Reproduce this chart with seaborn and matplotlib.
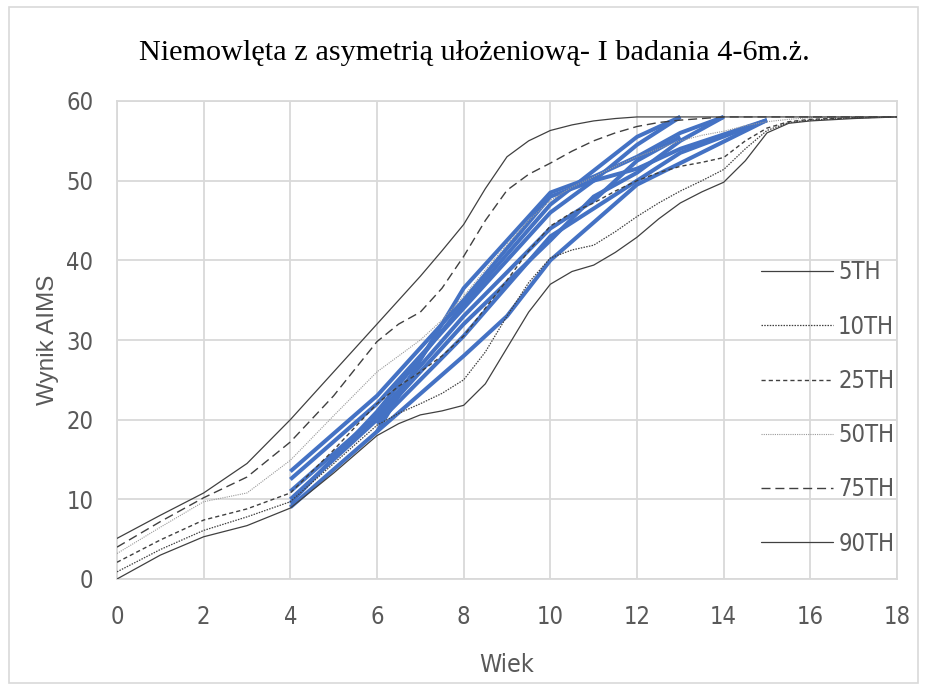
import numpy as np
import pandas as pd
import matplotlib
matplotlib.use("Agg")
import matplotlib.pyplot as plt
from matplotlib import font_manager
from matplotlib.lines import Line2D
from matplotlib.patches import Rectangle
import seaborn as sns

# ---------------- data ----------------
months = [0, 1, 2, 3, 4, 5, 6, 6.5, 7, 7.5, 8, 8.5, 9, 9.5, 10, 10.5, 11, 11.5,
          12, 12.5, 13, 13.5, 14, 14.5, 15, 15.5, 16, 17, 18]
p5 = [0.0, 3.0, 5.3, 6.7, 8.9, 13.3, 18.0, 19.5, 20.6, 21.1, 21.8, 24.5, 29.0, 33.5, 37.0, 38.6, 39.4, 41.0,
      42.9, 45.2, 47.2, 48.6, 49.8, 52.5, 56.0, 57.2, 57.5, 57.8, 58.0]
p10 = [0.9, 3.7, 6.1, 7.8, 9.7, 14.5, 19.3, 20.8, 22.0, 23.3, 25.0, 28.5, 33.0, 37.2, 40.3, 41.3, 41.9, 43.6,
       45.5, 47.2, 48.7, 50.0, 51.4, 54.0, 56.3, 57.3, 57.6, 57.9, 58.0]
p25 = [2.1, 4.9, 7.4, 8.8, 10.8, 16.2, 22.0, 24.2, 26.0, 28.0, 30.5, 34.0, 37.5, 41.2, 44.3, 46.0, 47.2, 48.7,
       50.0, 51.0, 51.8, 52.3, 52.9, 55.0, 56.6, 57.4, 57.7, 57.9, 58.0]
p50 = [3.2, 6.5, 9.7, 10.8, 14.9, 20.5, 26.0, 28.0, 30.0, 32.5, 35.5, 38.8, 42.0, 45.0, 47.5, 49.2, 50.5, 51.8,
       53.0, 54.0, 55.0, 55.7, 56.2, 56.9, 57.4, 57.7, 57.9, 58.0, 58.0]
p75 = [4.0, 7.2, 10.2, 12.8, 17.2, 23.0, 29.8, 32.0, 33.5, 36.5, 40.5, 45.0, 48.8, 50.8, 52.2, 53.7, 55.0, 56.0,
       56.8, 57.3, 57.6, 57.8, 58.0, 58.0, 58.0, 58.0, 58.0, 58.0, 58.0]
p90 = [5.1, 8.0, 10.8, 14.5, 20.0, 26.0, 32.0, 35.0, 38.0, 41.2, 44.5, 49.0, 53.0, 55.0, 56.3, 57.0, 57.5, 57.8,
       58.0, 58.0, 58.0, 58.0, 58.0, 58.0, 58.0, 58.0, 58.0, 58.0, 58.0]
percentile_labels = ["5TH", "10TH", "25TH", "50TH", "75TH", "90TH"]

# individual infants (age in months, AIMS score)
inf1_age = [4, 6, 8, 10, 11, 12, 13, 15]
inf1_score = [13.5, 23, 35, 48, 50, 51.5, 54, 57.6]
inf2_age = [4, 6, 8, 10, 11, 12, 13]
inf2_score = [12.5, 22, 34, 46, 50, 54.5, 58]
inf3_age = [4, 6, 8, 10, 11, 12, 13]
inf3_score = [11, 20.5, 33, 44, 47.5, 52.5, 55.5]
inf4_age = [4, 6, 8, 10, 11, 12, 13, 14]
inf4_score = [10, 20, 32, 42.5, 48, 51, 55, 58]
inf5_age = [4, 6, 8, 9, 10, 12, 15]
inf5_score = [9, 18.5, 28, 33, 40, 49.5, 57.6]
inf6_age = [6, 8, 10, 11, 12, 13, 14]
inf6_score = [18.5, 36.5, 48.5, 50.5, 53, 56, 58]
inf7_age = [6, 8, 10, 12, 13, 15]
inf7_score = [19.5, 30.5, 43, 50, 53.5, 57.6]
inf8_age = [4, 6, 8, 10, 12, 13]
inf8_score = [9.5, 21, 34.5, 47, 55.5, 58]

title = "Niemowlęta z asymetrią ułożeniową- I badania 4-6m.ż."
x_label = "Wiek"
y_label = "Wynik AIMS"
x_ticks = list(range(0, 19, 2))
y_ticks = list(range(0, 61, 10))

# ---------------- style ----------------
sns.set_theme(style="white")
names = {f.name for f in font_manager.fontManager.ttflist}
if "Liberation Sans Narrow" in names:
    sans = ["Liberation Sans Narrow", "DejaVu Sans"]
    stretch = "normal"
else:
    sans = ["DejaVu Sans"]
    stretch = "condensed"
plt.rcParams["font.family"] = sans
serif = ["Liberation Serif", "DejaVu Serif"]
wide_sans = ["Liberation Sans", "DejaVu Sans"]

W, H = 925, 690
fig = plt.figure(figsize=(W / 100, H / 100), dpi=100)
ax = fig.add_axes([117 / W, 1 - 579 / H, (897 - 117) / W, (579 - 101) / H])

blue = "#4472C4"
dark = "#404040"
gridc = "#D9D9D9"
textc = "#595959"

infants = [
    (inf1_age, inf1_score), (inf2_age, inf2_score), (inf3_age, inf3_score),
    (inf4_age, inf4_score), (inf5_age, inf5_score), (inf6_age, inf6_score),
    (inf7_age, inf7_score), (inf8_age, inf8_score),
]
for a, s in infants:
    sns.lineplot(x=a, y=s, ax=ax, color=blue, lw=2.9, estimator=None, sort=False,
                 zorder=3, solid_capstyle="butt", solid_joinstyle="round")

pdata = [p5, p10, p25, p50, p75, p90]
pstyles = [
    dict(color=dark, lw=0.9, linestyle="-"),
    dict(color=dark, lw=0.9, linestyle=(0, (1.2, 1.0))),
    dict(color=dark, lw=1.0, linestyle=(0, (3.0, 2.2))),
    dict(color="#9A9A9A", lw=0.8, linestyle=(0, (1.0, 1.0))),
    dict(color=dark, lw=1.0, linestyle=(0, (6.5, 3.5))),
    dict(color=dark, lw=0.9, linestyle="-"),
]
handles = []
for vals, st, lab in zip(pdata, pstyles, percentile_labels):
    sns.lineplot(x=months, y=vals, ax=ax, estimator=None, sort=False, zorder=4, **st)
    handles.append(Line2D([], [], **st, label=lab))

ax.set_xlim(0, 18)
ax.set_ylim(0, 60)
ax.set_xticks(x_ticks)
ax.set_yticks(y_ticks)
ax.grid(True, color=gridc, lw=1.3)
ax.set_axisbelow(True)
for sp in ax.spines.values():
    sp.set_color(gridc)
    sp.set_linewidth(1.3)
ax.tick_params(axis="both", length=0, labelsize=17, labelcolor=textc)
ax.tick_params(axis="x", pad=19)
ax.tick_params(axis="y", pad=17)
for lab in ax.get_xticklabels() + ax.get_yticklabels():
    lab.set_fontstretch(stretch)

ax.set_xlabel(x_label, fontsize=18, color=textc, labelpad=17, fontstretch=stretch)
ax.set_ylabel(y_label, fontsize=17.5, color=textc, labelpad=5, family=wide_sans)

fig.text(474 / W, 1 - 53 / H, title, ha="center", va="center", fontsize=21.8,
         family=serif, color="#000000")

leg = ax.legend(handles=handles, loc="upper left", bbox_to_anchor=((752 - 117) / 780, (579 - 251) / 478),
                frameon=False, fontsize=17, labelcolor=textc, handlelength=3.05,
                handletextpad=0.2, labelspacing=1.28, borderaxespad=0)
for t in leg.get_texts():
    t.set_fontstretch(stretch)

fig.add_artist(Rectangle((9 / W, 7 / H), (918 - 9) / W, (683 - 7) / H, transform=fig.transFigure,
                         fill=False, edgecolor=gridc, lw=1.2))

fig.savefig("out.png", dpi=100, facecolor="white")
